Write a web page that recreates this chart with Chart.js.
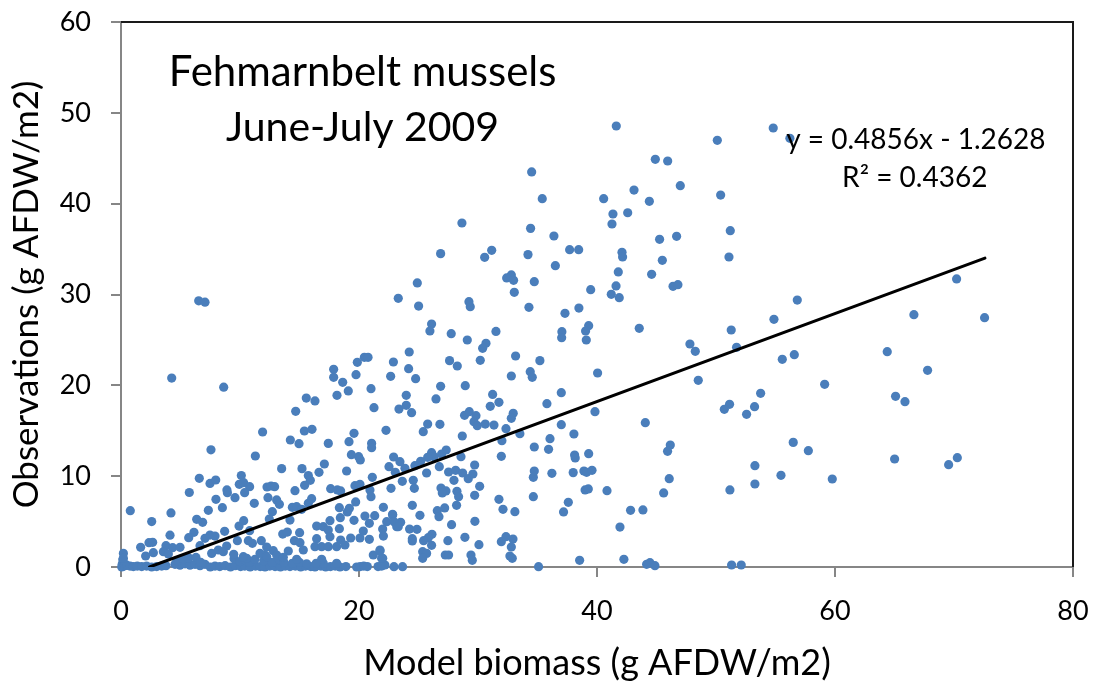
<!DOCTYPE html>
<html>
<head>
<meta charset="utf-8">
<title>Fehmarnbelt mussels</title>
<script src="https://cdn.jsdelivr.net/npm/chart.js@4"></script>
<style>
    html, body { margin: 0; padding: 0; background: #fff; }
    #wrap { width: 1094px; height: 681px; }
</style>
</head>
<body>
<div id="wrap"><canvas id="chart"></canvas></div>
<script>
const onBaseline = [
    [0.06,0],[0.1,0.3],[0.25,0.1],[0.2,0.5],[0.15,0.8],[0.3,0.2],[0.48,0.2],[0.76,0.1],[1.04,0.05],[1.37,0.1],[1.74,0.05],[2.15,0.1],
    [2.58,0],[3.0,0.05],[3.42,0.1],[3.78,0.15],[4.54,0.3],[4.96,0.2],[5.38,0.35],[5.8,0.2],[6.22,0.3],[6.64,0.15],[7.06,0.3],[7.5,0],
    [7.9,0.1],[8.3,0.05],[8.75,0.15],[9.2,0],[9.6,0.15],[10.05,0.05],[10.4,0.1],[10.85,0],[11.3,0.1],[11.7,0.05],[12.1,0],[12.5,0.1],
    [12.95,0.05],[13.4,0],[13.8,0.1],[14.2,0.05],[14.65,0.1],[15.1,0],[15.5,0.1],[15.95,0.05],[16.3,0],[16.8,0.1],[17.2,0],[17.6,0.05],
    [18.0,0.1],[18.4,0],[18.9,0.05],[19.8,0],[20.1,0.05],[20.4,0.1],[20.7,0.05],[21.6,0.05],[21.9,0.1],[22.18,0.22],[22.94,0.04],[23.66,0.04],
    [4.7,0.7],[5.2,0.9],[5.7,1.0],[6.3,1.05],[6.7,0.5],[9.5,0.9],[10.0,0.6],[10.4,0.8],[10.8,0.5],[12.0,0.7],[12.7,0.5],[13.3,0.8],[13.7,0.5],
    [14.4,0.4],[15.0,0.5],[17.0,0.4],[21.9,0.95],[21.76,1.87],[16.86,0.84],[18.12,0.4],[10.56,0.95],[11.26,0.84],[12.1,1.32],[16.4,0.4],[15.6,0.35]
];
const lowBiomass = [
    [4.26,20.8],[8.63,19.8],[0.78,6.2],[4.2,5.95],[2.58,5.0],[4.12,3.5],[7.56,12.9],[6.58,9.76],[5.74,8.2],[7.48,9.2],
    [7.96,9.58],[8.9,8.48],[8.94,8.18],[7.98,7.45],[9.58,7.63],[7.34,6.24],[8.52,6.53],[6.36,5.25],[6.86,4.92],[6.13,3.82],
    [5.69,3.23],[8.71,3.93],[7.48,3.52],[7.9,3.41],[7.06,3.16],[6.64,2.35],[9.78,2.9],[1.65,2.17],[2.35,2.68],[2.66,2.72],
    [2.72,1.58],[2.07,1.21],[0.2,1.5],[0.2,0.95],[3.78,2.35],[4.34,2.13],[4.96,2.17],[3.56,1.69],[3.98,1.43],[7.62,1.5],
    [8.18,1.87],[8.88,2.31],[8.6,1.69],[9.47,1.39],[10.28,1.14],[9.92,4.51],[10.31,5.1],[10.81,4.0],[10.7,2.9],[11.04,2.61],
    [10.11,10.06],[9.94,9.1],[10.31,9.28],[10.81,8.84],[10.39,8.18],[11.2,7.01],[11.29,12.22],[11.9,14.86],[14.23,13.98],[14.96,13.58],
    [14.68,17.14],[15.57,18.6],[16.3,18.28],[15.41,14.97],[16.05,15.16],[17.42,13.61],[13.5,10.83],[15.21,10.83],[16.64,10.42],[17.09,11.34],
    [15.74,10.06],[15.91,9.54],[15.43,8.99],[14.62,8.4],[12.27,8.81],[12.61,8.92],[12.91,8.84],[12.35,7.63],[13.08,7.38],[13.31,6.9],
    [14.4,6.57],[14.76,6.64],[15.18,6.35],[15.74,7.01],[16.02,7.52],[12.72,6.09],[12.46,5.28],[14.2,5.17],[13.59,3.63],[13.98,3.85],
    [15.01,3.78],[14.57,2.9],[15.04,2.68],[15.32,1.87],[14.06,1.76],[11.79,2.9],[12.24,2.2],[12.8,1.8],[11.68,1.5],[12.24,1.14],
    [13.08,1.32],[13.64,1.06],[14.76,0.84],[16.44,4.51],[17.0,4.44],[17.56,5.1],[17.42,4.07],[18.35,4.22],[16.44,3.12],[17.56,3.34],
    [16.3,2.24],[16.86,2.24],[17.42,2.24],[18.12,2.24],[18.46,2.97],[18.82,2.42],[19.3,3.19],[20.08,3.19],[20.87,3.05],[20.36,3.96],
    [19.58,5.14],[18.43,5.43],[18.35,6.53],[19.02,6.06],[19.19,6.46],[19.72,7.16],[20.5,5.61],[20.87,4.81],[21.32,5.65],[22.05,6.57],
    [22.83,5.72],[22.33,4.99],[21.99,4.18],[22.05,3.41],[23.17,4.44],[21.2,1.32],[21.77,1.76],[21.99,0.95],[17.62,8.62],[18.18,8.48],
    [18.46,8.37],[18.96,10.57],[19.66,8.95],[20.08,9.1],[20.92,8.48],[21.01,7.74],[21.12,9.87],[22.69,8.66],[23.05,10.42],[22.52,11.05],
    [22.91,12.11],[19.36,12.37],[19.97,12.15],[20.11,11.78],[21.06,13.61],[21.06,13.14],[19.16,13.8],[19.58,14.72],[22.27,15.05],[21.26,17.54],
    [21.01,19.63],[18.15,18.9],[19.1,19.38],[18.63,20.33],[17.87,20.88],[17.87,21.76],[19.75,21.17],[19.86,22.53],[20.45,23.08],[20.76,23.08],
    [22.89,22.57],[22.66,20.99],[23.36,17.39],[6.53,29.3],[7.06,29.15]
];
const midBiomass = [
    [25.01,28.73],[29.35,28.66],[29.24,29.21],[34.28,28.59],[37.31,27.93],[38.48,28.51],[41.87,29.65],[39.3,26.57],[39.04,25.98],[37.05,25.91],
    [37.03,25.25],[39.1,24.99],[43.55,26.28],[26.1,26.75],[25.96,25.98],[27.75,25.69],[31.51,25.94],[29.1,24.99],[30.67,24.62],[30.39,24.07],
    [24.22,23.67],[24.17,21.83],[24.76,20.73],[27.61,22.72],[28.26,22.13],[30.19,22.75],[33.16,23.23],[35.2,22.72],[34.39,21.5],[34.56,20.88],
    [32.8,21.03],[40.05,21.36],[26.86,19.89],[28.93,19.96],[23.97,18.9],[26.47,18.5],[31.23,19.0],[31.76,18.13],[31.03,17.69],[37,19.19],
    [35.79,17.98],[39.83,17.1],[23.97,17.8],[24.42,16.99],[25.77,15.74],[26.8,15.71],[25.4,14.9],[28.87,16.7],[29.27,17.1],[29.83,16.66],
    [29.66,16.0],[29.94,15.56],[30.61,15.74],[31.34,15.63],[32.35,15.23],[32.96,16.92],[32.8,16.37],[28.68,14.42],[33.52,14.68],[32.01,13.91],
    [37,15.67],[38.06,14.64],[36.05,14.13],[34.73,13.21],[35.93,12.95],[31.96,12.18],[44.06,15.89],[46.16,13.43],[45.93,12.73],[38.12,12.33],
    [38.17,12],[39.3,12.48],[28.57,12.15],[27.33,12.88],[26.94,12.44],[26.1,12.59],[26.3,12.15],[25.77,12.07],[25.18,11.63],[24.7,11.16],
    [26.75,11.05],[23.44,11.6],[23.86,10.86],[25.68,10.35],[27.53,10.46],[28.12,10.64],[28.71,10.35],[29.18,9.72],[29.57,10.24],[29.72,11.23],
    [27.98,9.54],[30.14,8.88],[29.72,7.89],[23.64,9.43],[24.56,9.54],[24.65,8.66],[26.89,8.7],[27.31,8.37],[27,8.15],[28.23,8.33],
    [28.37,7.74],[28.2,6.79],[27.2,6.5],[26.58,6.2],[26.72,5.54],[24.48,6.79],[25.12,5.69],[22.82,5.8],[23.5,4.92],[22.94,4.99],
    [23.3,4.44],[24.25,4.18],[24.87,4.15],[27.78,4.66],[29.74,5.03],[31.76,7.45],[32.1,6.35],[33.1,6.09],[34.65,7.74],[34.65,9.87],
    [34.73,10.57],[36.21,10.31],[38,10.39],[38.9,10.57],[39.13,10.42],[39.58,10.64],[39.0,8.48],[39.27,8.59],[40.84,8.4],[37.59,7.12],
    [37.19,6.06],[42.82,6.24],[43.86,6.28],[41.93,4.4],[45.6,8.15],[46.07,9.72],[26.13,3.6],[25.82,3.23],[25.43,2.9],[24.48,3.12],
    [24.48,2.86],[26.1,2.39],[27.47,2.9],[28.9,3.27],[30.08,2.46],[31.96,2.79],[32.35,3.34],[32.94,3.08],[32.8,2.2],[32.68,1.21],
    [32.88,0.95],[25.35,1.69],[25.68,1.5],[25.35,0.95],[27.25,1.32],[27.53,1.32],[29.41,1.32],[29.52,0.73],[38.54,0.73],[42.26,0.84],
    [44.17,0.29],[44.45,0.48],[44.87,0.15],[35.09,0.04]
];
const upperBiomass = [
    [41.62,48.55],[44.9,44.88],[45.94,44.7],[47,41.98],[43.11,41.5],[44.4,40.26],[40.56,40.55],[42.58,39.0],[41.34,38.86],[41.26,37.76],
    [34.51,43.49],[35.4,40.55],[28.65,37.87],[34.42,37.28],[36.38,36.44],[46.69,36.4],[45.26,36.07],[45.49,33.76],[37.7,34.94],[38.46,34.94],
    [42.1,34.64],[42.15,34.13],[34.2,34.39],[31.15,34.86],[30.56,34.09],[26.86,34.5],[36.5,33.17],[41.79,32.48],[44.59,32.22],[32.8,32.15],
    [32.41,31.82],[32.99,31.56],[34.73,31.41],[24.9,31.27],[23.3,29.58],[33.05,30.24],[39.47,30.53],[41.6,30.94],[41.2,30.02],[46.39,30.9],
    [46.8,31.08]
];
const highBiomass = [
    [54.81,48.33],[56.21,47.19],[50.11,46.97],[50.39,40.95],[51.2,37.03],[51.09,34.13],[56.83,29.39],[70.22,31.71],[54.87,27.27],[66.63,27.78],
    [72.57,27.45],[51.28,26.09],[51.73,24.18],[47.81,24.55],[48.26,23.74],[64.39,23.71],[55.57,22.86],[56.58,23.38],[67.78,21.65],[48.51,20.55],
    [59.13,20.11],[53.75,19.12],[51.14,17.91],[50.7,17.36],[53.24,17.65],[52.57,16.81],[65.09,18.79],[65.88,18.2],[56.49,13.72],[57.76,12.81],
    [65.01,11.89],[70.28,12.04],[69.55,11.27],[53.27,11.16],[55.46,10.09],[59.77,9.69],[51.17,8.48],[53.27,9.14],[51.31,0.22],[52.12,0.22]
];
const trendLine = [[2.4, 0], [72.6, 34]];

const xTicks = [0, 20, 40, 60, 80];
const yTicks = [0, 10, 20, 30, 40, 50, 60];

const allPoints = onBaseline.concat(lowBiomass, midBiomass, upperBiomass, highBiomass);
const toXY = (p) => ({ x: p[0], y: p[1] });

const FONT = "Lato, Carlito, sans-serif";

// black top/right edge of the plot box and the text boxes placed in data coords
const extras = {
    id: "extras",
    beforeDatasetsDraw(chart) {
        const { ctx, chartArea: a } = chart;
        ctx.save();
        ctx.strokeStyle = "#1a1a1a";
        ctx.lineWidth = 2;
        ctx.beginPath();
        ctx.moveTo(a.left, a.top);
        ctx.lineTo(a.right, a.top);
        ctx.lineTo(a.right, a.bottom);
        ctx.stroke();
        ctx.restore();
    },
    afterDatasetsDraw(chart) {
        const { ctx, scales } = chart;
        const text = (str, x, y, size) => {
            ctx.font = size + "px " + FONT;
            ctx.fillText(str, scales.x.getPixelForValue(x), scales.y.getPixelForValue(y));
        };
        ctx.save();
        ctx.fillStyle = "#000";
        ctx.textAlign = "center";
        ctx.textBaseline = "middle";
        text("Fehmarnbelt mussels", 20.3, 54.5, 42);
        text("June-July 2009", 20.3, 48.3, 41);
        text("y = 0.4856x - 1.2628", 66.8, 47, 28);
        text("R² = 0.4362", 66.7, 42.8, 28);
        ctx.restore();
    }
};

new Chart(document.getElementById("chart"), {
    type: "scatter",
    data: {
        datasets: [{
            type: "line",
            data: trendLine.map(toXY),
            borderColor: "#000",
            borderWidth: 3,
            borderCapStyle: "round",
            pointRadius: 0,
            tension: 0,
            fill: false
        }, {
            data: allPoints.map(toXY),
            backgroundColor: "#4a7ebb",
            borderWidth: 0,
            pointRadius: 4.6,
            clip: false
        }]
    },
    options: {
        responsive: true,
        maintainAspectRatio: false,
        animation: false,
        layout: { padding: { top: 22, right: 21, left: 0, bottom: 0 } },
        plugins: { legend: { display: false }, tooltip: { enabled: false } },
        scales: {
            x: {
                type: "linear",
                min: 0,
                max: 80,
                afterBuildTicks: (s) => { s.ticks = xTicks.map((v) => ({ value: v })); },
                // tick padding would otherwise push the plot area in
                afterFit: (s) => { s.height = 114; s.paddingLeft = 0; s.paddingRight = 0; },
                grid: { drawOnChartArea: false, color: "#868686", lineWidth: 2, tickLength: 10 },
                border: { color: "#868686", width: 2 },
                ticks: { color: "#000", font: { family: FONT, size: 27 }, padding: 18, maxRotation: 0 },
                title: { display: true, text: "Model biomass (g AFDW/m2)", color: "#000", font: { family: FONT, size: 36, lineHeight: 1 }, padding: { top: 0, bottom: 0 } }
            },
            y: {
                type: "linear",
                min: 0,
                max: 60,
                afterBuildTicks: (s) => { s.ticks = yTicks.map((v) => ({ value: v })); },
                afterFit: (s) => { s.width = 121; s.paddingTop = 0; s.paddingBottom = 0; },
                grid: { drawOnChartArea: false, color: "#868686", lineWidth: 2, tickLength: 10 },
                border: { color: "#868686", width: 2 },
                ticks: { color: "#000", font: { family: FONT, size: 27 }, padding: 20 },
                title: { display: true, text: "Observations (g AFDW/m2)", color: "#000", font: { family: FONT, size: 35 }, padding: { top: 6, bottom: 0 } }
            }
        }
    },
    plugins: [extras]
});
</script>
</body>
</html>
